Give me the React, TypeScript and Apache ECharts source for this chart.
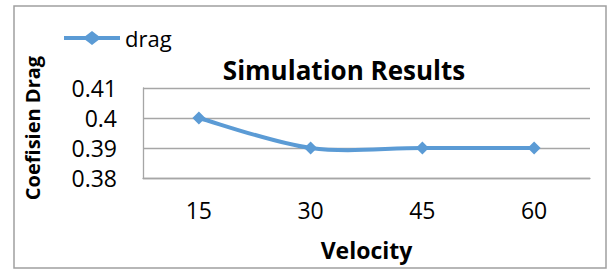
import React, { useEffect, useRef } from "react";
import * as echarts from "echarts";

const categories = ["15", "30", "45", "60"];
const dragValues = [0.4, 0.39, 0.39, 0.39];
const yMin = 0.38;
const yMax = 0.41;
const yInterval = 0.01;
const titleText = "Simulation Results";
const xName = "Velocity";
const yName = "Coefisien Drag";
const seriesName = "drag";

const FONT = "'Open Sans', 'Noto Sans', sans-serif";
const BLUE = "#5b9bd5";
const GRID = "#a6a6a6";
// legend icon: a thick line with a diamond in the middle (56 x 14 box)
const LEGEND_ICON =
  "path://M0 5 L21.5 5 L28 0 L34.5 5 L56 5 L56 9 L34.5 9 L28 14 L21.5 9 L0 9 Z";

export default function App() {
  const ref = useRef<HTMLDivElement>(null);
  useEffect(() => {
    if (!ref.current) return;
    const chart = echarts.init(ref.current, undefined, { renderer: "svg" });
    const n = dragValues.length;
    chart.setOption({
      animation: false,
      backgroundColor: "#ffffff",
      textStyle: { fontFamily: FONT },
      title: {
        text: titleText,
        left: 339,
        top: 52,
        textAlign: "center",
        textStyle: { fontFamily: FONT, fontSize: 26, fontWeight: "bold", color: "#000" },
      },
      legend: {
        left: 64,
        top: 27,
        padding: 0,
        itemWidth: 56,
        itemHeight: 14,
        itemGap: 5,
        icon: LEGEND_ICON,
        data: [seriesName],
        itemStyle: { color: BLUE, borderWidth: 0 },
        textStyle: { fontFamily: FONT, fontSize: 22, color: "#000" },
      },
      grid: { left: 143, top: 88, right: 19, bottom: 92 },
      xAxis: {
        type: "category",
        data: categories,
        boundaryGap: true,
        name: xName,
        nameLocation: "middle",
        nameGap: 60,
        nameTextStyle: { fontFamily: FONT, fontSize: 23, fontWeight: "bold", color: "#000" },
        axisLine: { show: true, lineStyle: { color: GRID, width: 1.3 } },
        axisTick: { show: false },
        axisLabel: { margin: 20, fontFamily: FONT, fontSize: 23, color: "#000" },
        splitLine: { show: false },
      },
      yAxis: {
        type: "value",
        min: yMin,
        max: yMax,
        interval: yInterval,
        name: yName,
        nameLocation: "middle",
        nameGap: 101,
        nameTextStyle: {
          fontFamily: FONT,
          fontSize: 20,
          fontWeight: "bold",
          color: "#000",
          padding: [0, 0, 0, 10],
        },
        axisLine: { show: true, lineStyle: { color: GRID, width: 1.3 } },
        axisTick: { show: false },
        axisLabel: { margin: 26, fontFamily: FONT, fontSize: 23, color: "#000" },
        splitLine: { show: true, lineStyle: { color: GRID, width: 1.3 } },
      },
      series: [
        {
          name: "drag-curve",
          type: "custom",
          coordinateSystem: "cartesian2d",
          data: dragValues.map((v, i) => [i, v]),
          encode: { x: 0, y: 1 },
          silent: true,
          z: 2,
          renderItem: (params: any, api: any) => {
            const i = params.dataIndex;
            if (i >= n - 1) return { type: "group", children: [] };
            const P = (k: number) => {
              const kk = Math.max(0, Math.min(n - 1, k));
              return api.coord([kk, dragValues[kk]]);
            };
            const p0 = P(i - 1);
            const p1 = P(i);
            const p2 = P(i + 1);
            const p3 = P(i + 2);
            const c1 = [p1[0] + (p2[0] - p0[0]) / 6, p1[1] + (p2[1] - p0[1]) / 6];
            const c2 = [p2[0] - (p3[0] - p1[0]) / 6, p2[1] - (p3[1] - p1[1]) / 6];
            return {
              type: "bezierCurve",
              shape: {
                x1: p1[0], y1: p1[1], x2: p2[0], y2: p2[1],
                cpx1: c1[0], cpy1: c1[1], cpx2: c2[0], cpy2: c2[1],
              },
              style: { stroke: BLUE, lineWidth: 4, fill: "none", lineCap: "round" },
            };
          },
        },
        {
          name: seriesName,
          type: "line",
          data: dragValues,
          z: 3,
          symbol: "diamond",
          symbolSize: 13,
          itemStyle: { color: BLUE },
          lineStyle: { color: BLUE, width: 4, opacity: 0 },
        },
      ],
      graphic: [
        {
          type: "rect",
          shape: { x: 14, y: 6, width: 592, height: 262 },
          style: { fill: "none", stroke: "#a0a0a0", lineWidth: 1.5 },
          silent: true,
          z: -1,
        },
      ],
    });
    return () => chart.dispose();
  }, []);
  return (
    <div
      ref={ref}
      style={{ position: "fixed", left: 0, top: 0, width: 609, height: 270, background: "#fff" }}
    />
  );
}
